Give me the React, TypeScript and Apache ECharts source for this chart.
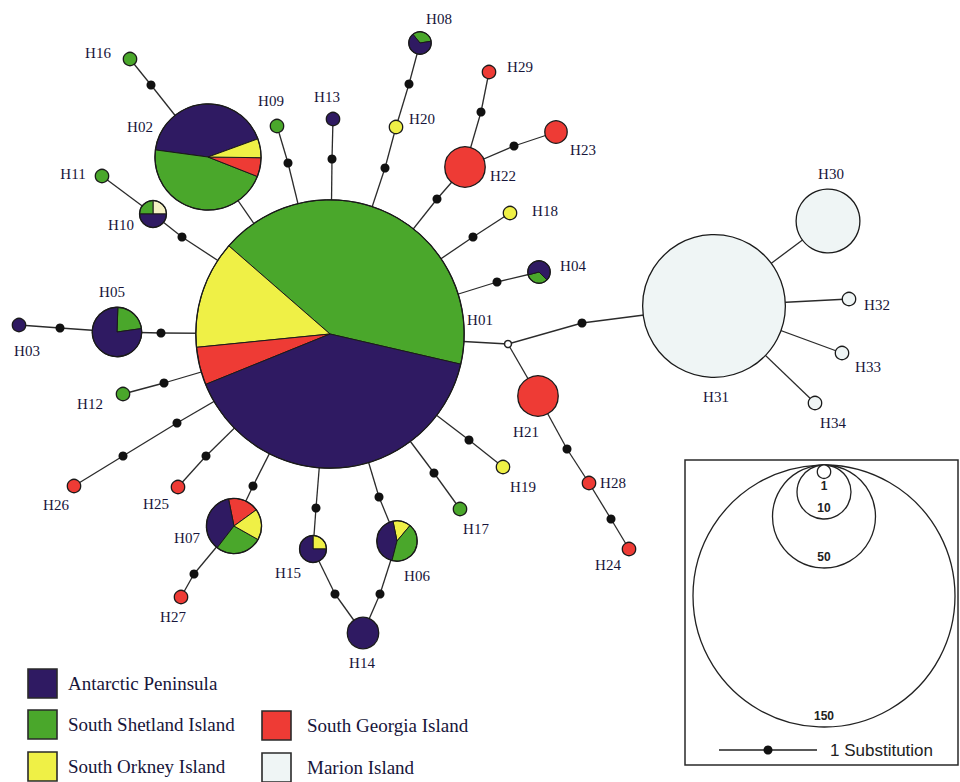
import React, { useEffect, useRef } from 'react';
import * as echarts from 'echarts';

// ---------- DATA ----------
const haplotypes = [
  'H01','H02','H03','H04','H05','H06','H07','H08','H09','H10',
  'H11','H12','H13','H14','H15','H16','H17','H18','H19','H20',
  'H21','H22','H23','H24','H25','H26','H27','H28','H29','H30',
  'H31','H32','H33','H34',
];
// individuals per haplotype and region
const antarcticPeninsula = [62,22,1,2,7,3,4,2,0,2, 0,0,1,5,3,0,0,0,0,0, 0,0,0,0,0,0,0,0,0,0, 0,0,0,0];
const southShetland      = [65,24,0,1,2,3,3,1,1,1, 1,1,0,0,0,1,1,0,0,0, 0,0,0,0,0,0,0,0,0,0, 0,0,0,0];
const southOrkney        = [20,3,0,0,0,1,2,0,0,0, 0,0,0,0,1,0,0,1,1,1, 0,0,0,0,0,0,0,0,0,0, 0,0,0,0];
const southGeorgia       = [7,3,0,0,0,0,2,0,0,0, 0,0,0,0,0,0,0,0,0,0, 7,7,3,1,1,1,1,1,1,0, 0,0,0,0];
const marionIsland       = [0,0,0,0,0,0,0,0,0,0, 0,0,0,0,0,0,0,0,0,0, 0,0,0,0,0,0,0,0,0,18, 75,1,1,1];
const unassigned         = [0,0,0,0,0,0,0,0,0,1, 0,0,0,0,0,0,0,0,0,0, 0,0,0,0,0,0,0,0,0,0, 0,0,0,0];

// network layout coordinates (layout space)
const layoutX = [330,208,19,539,117,397,234,420,277,153, 102,123,333,363,313,130,460,510,503,396, 538,465,556,629,178,74,181,589,489,828, 714,849,842,815];
const layoutY = [334,157,325,272,332,541,526,43,126,214, 176,394,119,633,549,59,509,213,467,127, 396,167,132,549,487,486,597,483,72,221, 306,299,353,403];

// median vectors (inferred, unsampled)
const medianNames = ['m1','m2','m3','m4','m5','m6','m7','m8','m9','m10','m11','m12','m13','m14','m15','m16','m17','m18','m19','m20','m21','m22','m23','m24','m25','m26','m27','m28'];
const medianX = [151,288,332,409,385,481,514,437,473,497,182,60,161,164,123,177,206,253,194,316,335,379,380,434,469,567,611,582];
const medianY = [85,163,159,84,168,112,146,199,237,282,237,328,333,383,456,423,456,486,574,508,594,497,594,473,440,449,519,323];
const openNames = ['o1'];
const openX = [508];
const openY = [344];

const edges: [string, string][] = [
  ['H16','m1'],['m1','H02'],['H02','H01'],
  ['H09','m2'],['m2','H01'],
  ['H13','m3'],['m3','H01'],
  ['H08','m4'],['m4','H20'],['H20','m5'],['m5','H01'],
  ['H29','m6'],['m6','H22'],['H22','m7'],['m7','H23'],['H22','m8'],['m8','H01'],
  ['H18','m9'],['m9','H01'],
  ['H04','m10'],['m10','H01'],
  ['H11','H10'],['H10','m11'],['m11','H01'],
  ['H03','m12'],['m12','H05'],['H05','m13'],['m13','H01'],
  ['H12','m14'],['m14','H01'],
  ['H26','m15'],['m15','m16'],['m16','H01'],
  ['H25','m17'],['m17','H01'],
  ['H07','m18'],['m18','H01'],['H07','m19'],['m19','H27'],
  ['H15','m20'],['m20','H01'],['H15','m21'],['m21','H14'],
  ['H06','m22'],['m22','H01'],['H06','m23'],['m23','H14'],
  ['H17','m24'],['m24','H01'],
  ['H19','m25'],['m25','H01'],
  ['H01','o1'],['o1','H21'],['H21','m26'],['m26','H28'],['H28','m27'],['m27','H24'],
  ['o1','m28'],['m28','H31'],
  ['H31','H30'],['H31','H32'],['H31','H33'],['H31','H34'],
];

const regionNames = ['Antarctic Peninsula','South Shetland Island','South Orkney Island','South Georgia Island','Marion Island'];
const scaleCounts = [1, 10, 50, 150];

// ---------- LAYOUT / STYLE ----------
const regionData = [antarcticPeninsula, southShetland, southOrkney, southGeorgia, marionIsland, unassigned];
const regionColors = ['#2f1a62', '#4aa72b', '#eff046', '#ee3b35', '#eff5f5', '#f4f1c4'];
const sliceLayout: Record<string, { start: number; order: number[] }> = {
  H01: { start: 347, order: [1, 2, 3, 0] },
  H02: { start: 20, order: [0, 1, 3, 2] },
  H04: { start: 195, order: [1, 0] },
  H05: { start: 8, order: [1, 0] },
  H06: { start: 50, order: [2, 0, 1] },
  H07: { start: 36, order: [3, 0, 1, 2] },
  H08: { start: 9, order: [1, 0] },
  H10: { start: 0, order: [5, 1, 0] },
  H15: { start: 0, order: [2, 0] },
};
const labelDX = [150,-68,8,34,-5,20,-47,19,-6,-32, -29,-33,-6,-1,-25,-32,16,35,20,26, -12,38,27,-21,-22,-18,-8,24,31,3, 2,28,26,18];
const labelDY = [-14,-30,26,-6,-40,35,12,-24,-25,11, -2,10,-22,30,24,-6,20,-2,20,-8, 36,9,18,16,17,19,20,0,-5,-47, 91,6,14,20];

const radius = (n: number) => {
  const k = [1, 10, 50, 150];
  const rr = [6.7, 27, 51.5, 131];
  let j = 0;
  if (n >= k[3]) j = 2;
  else while (j < 2 && n > k[j + 1]) j++;
  return rr[j] + ((n - k[j]) * (rr[j + 1] - rr[j])) / (k[j + 1] - k[j]);
};

const posOf: Record<string, [number, number]> = {};
haplotypes.forEach((h, i) => (posOf[h] = [layoutX[i], layoutY[i]]));
medianNames.forEach((m, i) => (posOf[m] = [medianX[i], medianY[i]]));
openNames.forEach((m, i) => (posOf[m] = [openX[i], openY[i]]));

const SERIF = '"Liberation Serif", "Times New Roman", serif';
const SANS = '"Liberation Sans", Arial, sans-serif';
const LABEL_COLOR = '#17153a';

export default function App() {
  const ref = useRef<HTMLDivElement>(null);
  useEffect(() => {
    document.body.style.margin = '0';
    if (!ref.current) return;
    const chart = echarts.init(ref.current, null, { renderer: 'svg' });

    const edgeData = edges.map(([a, b]) => [posOf[a][0], posOf[a][1], posOf[b][0], posOf[b][1]]);
    const nodeData = haplotypes.map((h, i) => [layoutX[i], layoutY[i], i]);

    const legendGraphics: any[] = [];
    const legendPos: [number, number][] = [[28, 669], [28, 710], [28, 752], [262, 711], [262, 753]];
    const legendTextGap = [40, 40, 40, 45, 45];
    regionNames.forEach((name, i) => {
      const [lx, ly] = legendPos[i];
      legendGraphics.push({
        type: 'rect', shape: { x: lx, y: ly, width: 29, height: 29 },
        style: { fill: regionColors[i], stroke: '#2a2a2a', lineWidth: 1.6 },
      });
      legendGraphics.push({
        type: 'text', x: lx + legendTextGap[i], y: ly + 14,
        style: { text: name, fill: LABEL_COLOR, font: `19px ${SERIF}`, align: 'left', verticalAlign: 'middle' },
      });
    });

    // size scale box
    const scaleGraphics: any[] = [
      { type: 'rect', shape: { x: 685, y: 460, width: 273, height: 305 }, style: { fill: 'none', stroke: '#2a2a2a', lineWidth: 1.5 } },
    ];
    const topY = 465;
    const scaleCx = 824;
    [...scaleCounts].reverse().forEach((c) => {
      const r = radius(c);
      scaleGraphics.push({ type: 'circle', shape: { cx: scaleCx, cy: topY + r, r }, style: { fill: c === 1 ? '#fff' : 'none', stroke: '#222', lineWidth: 1.3 } });
      const ly = r < 10 ? topY + 2 * r + 8 : topY + 2 * r - 11;
      scaleGraphics.push({ type: 'text', x: scaleCx, y: ly, style: { text: String(c), fill: '#222', font: `bold 12px ${SANS}`, align: 'center', verticalAlign: 'middle' } });
    });
    scaleGraphics.push({ type: 'line', shape: { x1: 719, y1: 750, x2: 817, y2: 750 }, style: { stroke: '#222', lineWidth: 1.5 } });
    scaleGraphics.push({ type: 'circle', shape: { cx: 768, cy: 750, r: 4.5 }, style: { fill: '#111' } });
    scaleGraphics.push({ type: 'text', x: 830, y: 750, style: { text: '1 Substitution', fill: '#222', font: `17px ${SANS}`, align: 'left', verticalAlign: 'middle' } });

    const option: any = {
      animation: false,
      backgroundColor: '#ffffff',
      grid: { left: 0, right: 0, top: 0, bottom: 0 },
      xAxis: { type: 'value', min: 0, max: 960, show: false },
      yAxis: { type: 'value', min: 0, max: 782, inverse: true, show: false },
      graphic: [...legendGraphics, ...scaleGraphics],
      series: [
        {
          type: 'custom',
          name: 'edges',
          z: 1,
          silent: true,
          encode: { x: [0, 2], y: [1, 3] },
          data: edgeData,
          renderItem: (params: any, api: any) => {
            const p1 = api.coord([api.value(0), api.value(1)]);
            const p2 = api.coord([api.value(2), api.value(3)]);
            return {
              type: 'line',
              shape: { x1: p1[0], y1: p1[1], x2: p2[0], y2: p2[1] },
              style: { stroke: '#2b2b2b', lineWidth: 1.3 },
            };
          },
        },
        {
          type: 'scatter',
          name: 'median vectors',
          z: 2,
          symbol: 'circle',
          symbolSize: 9,
          itemStyle: { color: '#111', opacity: 1 },
          data: medianNames.map((_, i) => [medianX[i], medianY[i]]),
        },
        {
          type: 'scatter',
          name: 'missing',
          z: 2,
          symbol: 'circle',
          symbolSize: 7,
          itemStyle: { color: '#fff', borderColor: '#222', borderWidth: 1.5, opacity: 1 },
          data: openNames.map((_, i) => [openX[i], openY[i]]),
        },
        {
          type: 'custom',
          name: 'haplotypes',
          z: 3,
          encode: { x: 0, y: 1 },
          data: nodeData,
          renderItem: (params: any, api: any) => {
            const i = params.dataIndex;
            const name = haplotypes[i];
            const c = api.coord([api.value(0), api.value(1)]);
            const counts = regionData.map((a) => a[i]);
            const total = counts.reduce((s, v) => s + v, 0);
            const r = radius(total);
            const children: any[] = [];
            const present = counts.map((v, k) => (v > 0 ? k : -1)).filter((k) => k >= 0);
            if (present.length === 1) {
              children.push({
                type: 'circle', shape: { cx: c[0], cy: c[1], r },
                style: { fill: regionColors[present[0]], stroke: '#1a1a1a', lineWidth: 1.3 },
              });
            } else {
              const lay = sliceLayout[name] || { start: 90, order: present };
              let a = lay.start;
              lay.order.forEach((k) => {
                const span = (counts[k] / total) * 360;
                if (span <= 0) return;
                const a1 = a, a2 = a + span;
                children.push({
                  type: 'sector',
                  shape: { cx: c[0], cy: c[1], r, r0: 0, startAngle: (-a2 * Math.PI) / 180, endAngle: (-a1 * Math.PI) / 180, clockwise: true },
                  style: { fill: regionColors[k], stroke: '#1a1a1a', lineWidth: 1 },
                });
                a = a2;
              });
              children.push({
                type: 'circle', shape: { cx: c[0], cy: c[1], r },
                style: { fill: 'none', stroke: '#1a1a1a', lineWidth: 1.3 },
              });
            }
            children.push({
              type: 'text', x: c[0] + labelDX[i], y: c[1] + labelDY[i],
              style: { text: name, fill: LABEL_COLOR, font: `15px ${SERIF}`, align: 'center', verticalAlign: 'middle' },
            });
            return { type: 'group', children };
          },
        },
      ],
    };
    chart.setOption(option);
    return () => chart.dispose();
  }, []);
  return <div ref={ref} style={{ width: 960, height: 782 }} />;
}
